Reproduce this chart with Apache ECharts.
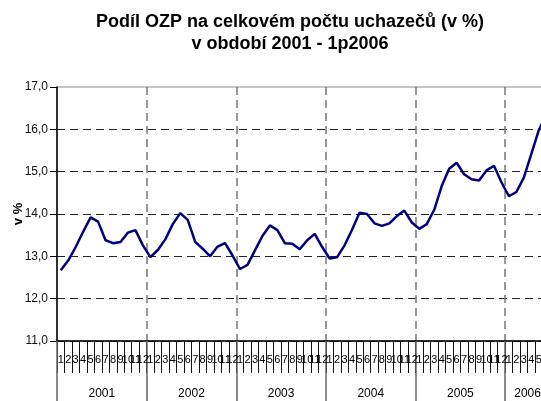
<!DOCTYPE html>
<html>
<head>
<meta charset="utf-8">
<script src="https://cdn.jsdelivr.net/npm/echarts@6/dist/echarts.min.js"></script>
<style>
html, body { margin: 0; padding: 0; background: #fff; }
#chart { width: 541px; height: 401px; }
</style>
</head>
<body>
<div id="chart"></div>
<script>
var years = ['2001', '2002', '2003', '2004', '2005', '2006'];
var monthsPerYear = [12, 12, 12, 12, 12, 6];
// podíl OZP v %, měsíčně
var v2001 = [12.67, 12.90, 13.22, 13.58, 13.92, 13.82, 13.38, 13.31, 13.34, 13.56, 13.62, 13.26];
var v2002 = [12.98, 13.15, 13.40, 13.76, 14.02, 13.86, 13.34, 13.18, 13.00, 13.23, 13.31, 13.02];
var v2003 = [12.70, 12.80, 13.14, 13.48, 13.73, 13.62, 13.31, 13.30, 13.17, 13.38, 13.53, 13.22];
var v2004 = [12.95, 12.98, 13.26, 13.63, 14.03, 14.00, 13.78, 13.72, 13.78, 13.95, 14.08, 13.80];
var v2005 = [13.65, 13.76, 14.10, 14.66, 15.07, 15.21, 14.94, 14.82, 14.79, 15.03, 15.14, 14.75];
var v2006 = [14.42, 14.52, 14.86, 15.42, 15.98, 16.35];
var yTicks = [11, 12, 13, 14, 15, 16, 17];

var values = [].concat(v2001, v2002, v2003, v2004, v2005, v2006);
var months = [];
var yearStart = {};   // index of first month -> true
var yearLabelAt = {}; // index -> year label
var idx = 0;
for (var y = 0; y < years.length; y++) {
    yearStart[idx] = true;
    yearLabelAt[idx + Math.floor(monthsPerYear[y] / 2) - 1] = years[y];
    for (var m = 1; m <= monthsPerYear[y]; m++) {
        months.push(String(m));
        idx++;
    }
}

var font = 'Liberation Sans, Arial, sans-serif';
var chart = echarts.init(document.getElementById('chart'));
var option = {
    backgroundColor: '#fff',
    animation: false,
    title: {
        text: 'Podíl OZP na celkovém počtu uchazečů (v %)\nv období 2001 - 1p2006',
        left: 285,
        top: 6,
        textAlign: 'center',
        textStyle: {
            fontFamily: font,
            fontWeight: 'bold',
            fontSize: 18,
            lineHeight: 22,
            color: '#000'
        }
    },
    grid: {
        left: 57,
        top: 87,
        width: 493,
        height: 254,
        outerBoundsMode: 'none',
        show: true,
        borderColor: '#888',
        borderWidth: 1
    },
    xAxis: [
        {
            type: 'category',
            data: months,
            boundaryGap: true,
            axisLine: { show: true, lineStyle: { color: '#000', width: 1.5 } },
            axisTick: { show: true, interval: 0, length: 32, lineStyle: { color: '#111', width: 1 } },
            axisLabel: {
                interval: 0,
                margin: 13,
                fontFamily: font,
                fontSize: 11,
                color: '#000'
            },
            splitLine: {
                show: true,
                interval: function (i) { return yearStart[i] && i > 0; },
                lineStyle: { color: '#777', width: 1.5, type: [8, 5] }
            }
        },
        {
            type: 'category',
            data: months,
            position: 'bottom',
            boundaryGap: true,
            axisLine: { show: false },
            axisTick: {
                show: true,
                interval: function (i) { return !!yearStart[i]; },
                length: 60,
                lineStyle: { color: '#666', width: 1.5 }
            },
            axisLabel: {
                interval: function (i) { return yearLabelAt[i] !== undefined; },
                formatter: function (val, i) { return yearLabelAt[i] || ''; },
                margin: 47,
                padding: [0, 0, 0, 7.5],
                fontFamily: font,
                fontSize: 12,
                color: '#000'
            },
            splitLine: { show: false }
        }
    ],
    yAxis: {
        type: 'value',
        min: yTicks[0],
        max: yTicks[yTicks.length - 1],
        interval: 1,
        name: 'v %',
        nameLocation: 'middle',
        nameGap: 32,
        nameRotate: 90,
        nameMoveOverlap: false,
        nameTextStyle: { fontFamily: font, fontWeight: 'bold', fontSize: 13, color: '#000' },
        axisLine: { show: true, lineStyle: { color: '#000', width: 1.5 } },
        axisTick: { show: true, length: 7, lineStyle: { color: '#000' } },
        axisLabel: {
            margin: 9,
            fontFamily: font,
            fontSize: 12,
            color: '#111',
            formatter: function (v) { return v.toFixed(1).replace('.', ','); }
        },
        splitLine: {
            show: true,
            lineStyle: {
                color: yTicks.map(function (t, i) { return i === yTicks.length - 1 ? 'rgba(0,0,0,0)' : '#222'; }),
                width: 1,
                type: [8, 5]
            }
        }
    },
    series: [
        {
            type: 'line',
            data: values,
            showSymbol: false,
            symbol: 'none',
            lineStyle: { color: '#000080', width: 2.5 },
            clip: false
        }
    ]
};
chart.setOption(option);
</script>
</body>
</html>
